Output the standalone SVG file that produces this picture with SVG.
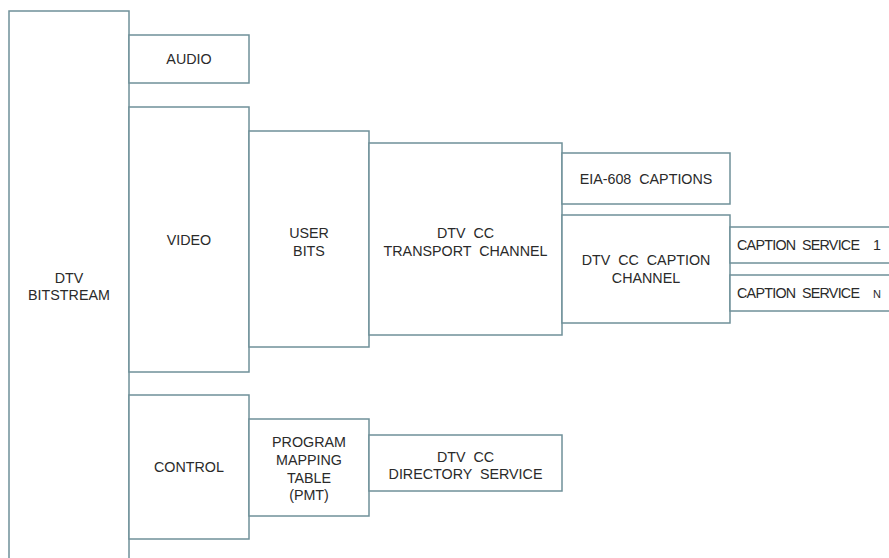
<svg xmlns="http://www.w3.org/2000/svg" width="889" height="558" viewBox="0 0 889 558">
<style>
rect{fill:#fff;stroke:#6f9099;stroke-width:1.5}
text{font-family:"Liberation Sans",Arial,sans-serif;font-size:14.3px;fill:#2a2a2a;white-space:pre}
.c{text-anchor:middle}
</style>
<rect x="0" y="0" width="889" height="558" style="fill:#fff;stroke:none"/>
<g id="bitstream"><rect x="9" y="11" width="120" height="560"/><text class="c" x="69" y="283">DTV</text><text class="c" x="69" y="300">BITSTREAM</text></g>
<g id="audio"><rect x="129" y="35" width="120" height="48"/><text class="c" x="189" y="64">AUDIO</text></g>
<g id="video"><rect x="129" y="107" width="120" height="265"/><text class="c" x="189" y="245">VIDEO</text></g>
<g id="userbits"><rect x="249" y="131" width="120" height="216"/><text class="c" x="309" y="238">USER</text><text class="c" x="309" y="256">BITS</text></g>
<g id="transport"><rect x="369" y="143" width="193" height="192"/><text class="c" x="465.5" y="238">DTV  CC</text><text class="c" x="465.5" y="256">TRANSPORT  CHANNEL</text></g>
<g id="eia608"><rect x="562" y="153" width="168" height="51"/><text class="c" x="646" y="184">EIA-608  CAPTIONS</text></g>
<g id="captionchannel"><rect x="562" y="215" width="168" height="108"/><text class="c" x="646" y="265">DTV  CC  CAPTION</text><text class="c" x="646" y="283">CHANNEL</text></g>
<g id="service1"><rect x="730" y="227" width="180" height="36"/><text x="737" y="250"><tspan textLength="123" lengthAdjust="spacing">CAPTION  SERVICE</tspan> <tspan x="873">1</tspan></text></g>
<g id="serviceN"><rect x="730" y="275" width="180" height="36"/><text x="737" y="298"><tspan textLength="123" lengthAdjust="spacing">CAPTION  SERVICE</tspan> <tspan x="873" style="font-size:11px">N</tspan></text></g>
<g id="control"><rect x="129" y="395" width="120" height="144"/><text class="c" x="189" y="472">CONTROL</text></g>
<g id="pmt"><rect x="249" y="419" width="120" height="97"/><text class="c" x="309" y="447">PROGRAM</text><text class="c" x="309" y="465">MAPPING</text><text class="c" x="309" y="482.5">TABLE</text><text class="c" x="309" y="500">(PMT)</text></g>
<g id="directory"><rect x="369" y="435" width="193" height="56"/><text class="c" x="465.5" y="462">DTV  CC</text><text class="c" x="465.5" y="479">DIRECTORY  SERVICE</text></g>
<g id="connectors"></g>
</svg>
